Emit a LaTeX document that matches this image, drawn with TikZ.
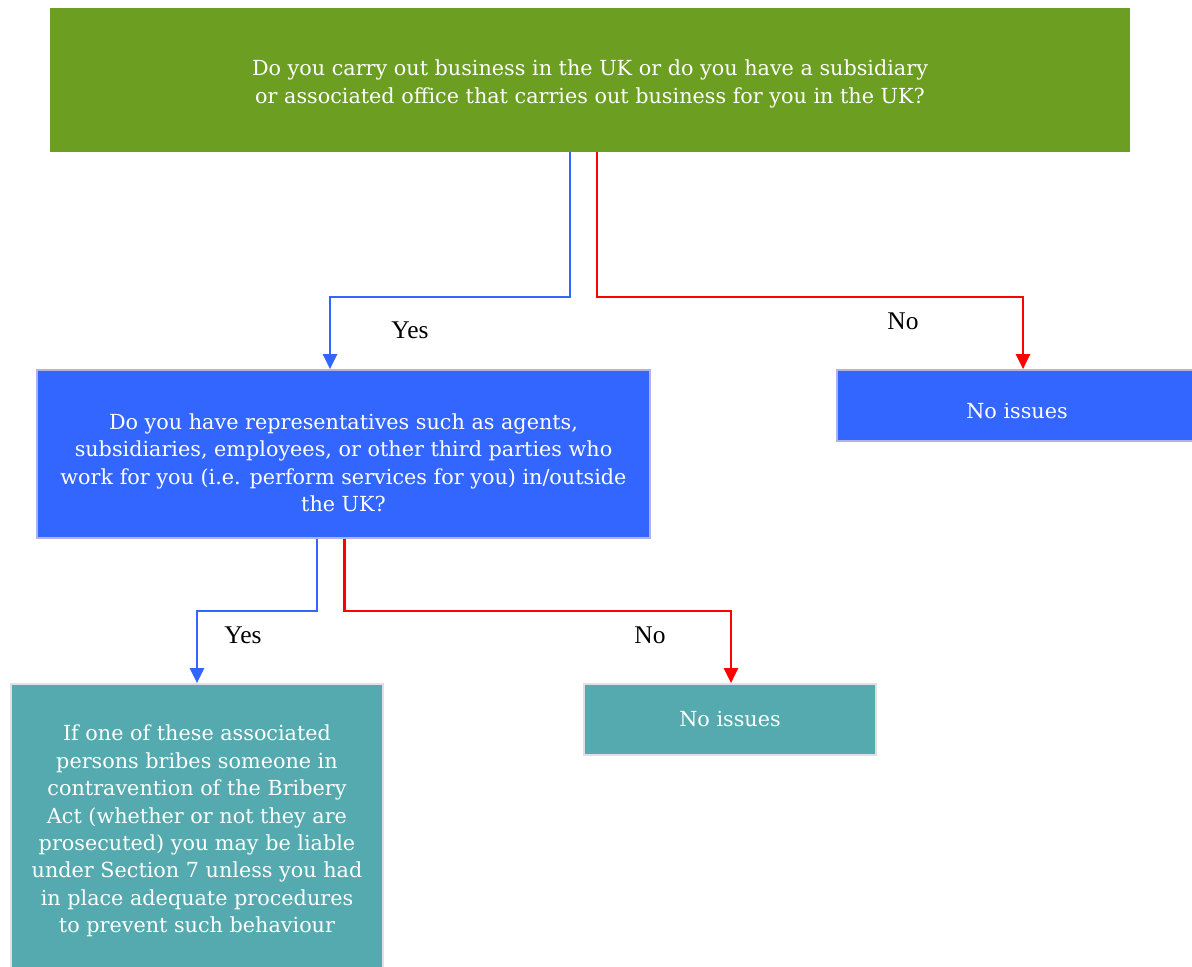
\documentclass[tikz,border=0pt]{standalone}
\usepackage{fontspec}
\setmainfont{DejaVu Serif}
\newfontfamily\labelfont{Liberation Serif}
\usepackage{xcolor}
\usepackage{tikz}
\usetikzlibrary{shapes.geometric, arrows.meta}
\definecolor{bizgreen}{HTML}{6B9E21}
\definecolor{repblue}{HTML}{3366FF}
\definecolor{outteal}{HTML}{54AAAE}
\tikzstyle{boxtext} = [rectangle, inner sep=0pt, align=center, text=white,
font=\fontsize{11.8}{15.6}\selectfont]
\tikzstyle{bizq} = [boxtext, fill=bizgreen]
\tikzstyle{repq} = [boxtext, fill=repblue, draw=black!35!blue!30, line width=1pt]
\tikzstyle{outcome} = [boxtext, fill=outteal, draw=black!12, line width=1pt]
\tikzstyle{answer} = [font=\labelfont\fontsize{14.5}{17}\selectfont]
\tikzstyle{yesarrow} = [line width=1.2pt, ->, draw=repblue]
\tikzstyle{noarrow} = [line width=1.2pt, ->, draw=red]

\begin{document}
\begin{tikzpicture}[>={Triangle[width=8pt,length=8.5pt]}]
    \useasboundingbox (0,0) rectangle (23.84,19.34);
    \node (biz) [bizq, minimum width=21.6cm, minimum height=2.88cm] at (11.8,17.74)
    {\rule{0pt}{13.5pt}Do you carry out business in the UK or do you have a subsidiary\\
     or associated office that carries out business for you in the UK?};
    \node (rep) [repq, minimum width=12.26cm, minimum height=3.36cm] at (6.87,10.26)
    {\rule{0pt}{19pt}Do you have representatives such as agents,\\
     subsidiaries, employees, or other third parties who\\
     work for you (i.e. perform services for you) in/outside\\
     the UK?};
    \node (noA) [repq, minimum width=7.2cm, minimum height=1.42cm, text height=0.6cm,
    text depth=0.06cm] at (20.34,11.23) {No issues};
    \node (liable) [outcome, minimum width=7.44cm, minimum height=5.88cm] at (3.94,2.72)
    {If one of these associated\\
     persons bribes someone in\\
     contravention of the Bribery\\
     Act (whether or not they are\\
     prosecuted) you may be liable\\
     under Section 7 unless you had\\
     in place adequate procedures\\
     to prevent such behaviour};
    \node (noB) [outcome, minimum width=5.84cm, minimum height=1.42cm] at (14.6,4.95) {No issues};

    % first question
    \draw[yesarrow] ([xshift=-0.4cm]biz.south) -- ++(0,-2.9) -| ([xshift=-0.27cm]rep.north);
    \draw[noarrow] ([xshift=0.14cm]biz.south) -- ++(0,-2.9) -| ([xshift=0.12cm]noA.north);
    \node (yesA) [answer] at (8.2,12.74) {Yes};
    \node (nolblA) [answer] at (18.06,12.92) {No};

    % second question
    \draw[yesarrow] ([xshift=-0.53cm]rep.south) -- ++(0,-1.44) -| (liable.north);
    \draw[noarrow] ([xshift=0.02cm]rep.south) -- ++(0,-1.44) -| ([xshift=0.02cm]noB.north);
    \node (yesB) [answer] at (4.86,6.64) {Yes};
    \node (nolblB) [answer] at (13.0,6.64) {No};
\end{tikzpicture}
\end{document}
